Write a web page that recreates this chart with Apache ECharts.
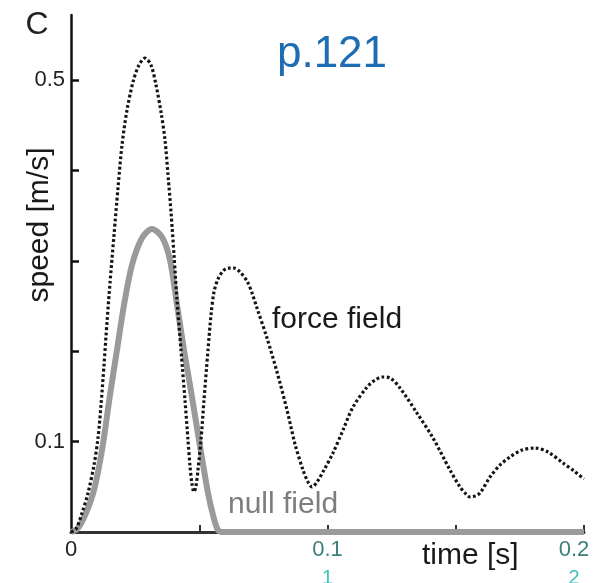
<!DOCTYPE html>
<html>
<head>
<meta charset="utf-8">
<script src="https://cdn.jsdelivr.net/npm/echarts@6/dist/echarts.min.js"></script>
<style>
html,body{margin:0;padding:0;background:#fff;}
#chart{width:606px;height:583px;}
</style>
</head>
<body>
<div id="chart"></div>
<script>
// force field trace: time [s] and speed [m/s]
var forceTime = [0,0.00195,0.00429,0.00663,0.00897,0.01053,0.0117,0.01287,0.01404,0.0152,0.01676,0.01832,0.01988,0.02183,0.02417,0.02651,0.02885,0.03119,0.03314,0.03509,0.03665,0.03782,0.03899,0.04016,0.04133,0.04288,0.04444,0.04561,0.04639,0.04717,0.04795,0.04873,0.04951,0.05068,0.05185,0.05341,0.05458,0.05575,0.05731,0.05926,0.06121,0.06355,0.06589,0.06862,0.07057,0.07251,0.07641,0.08031,0.08421,0.08733,0.09045,0.0924,0.09396,0.09591,0.09864,0.10214,0.10604,0.10994,0.1154,0.11852,0.12125,0.12437,0.12827,0.13489,0.14113,0.14776,0.15166,0.154,0.15556,0.1575,0.15945,0.16335,0.16725,0.17115,0.17583,0.1809,0.18596,0.19181,0.1961,0.2];
var forceSpeed = [0,0.0033,0.021,0.0431,0.0741,0.104,0.1405,0.1847,0.2323,0.2754,0.3285,0.3805,0.4281,0.4668,0.4978,0.5166,0.5243,0.5166,0.4945,0.4646,0.4336,0.3949,0.354,0.3064,0.2566,0.2013,0.146,0.1018,0.073,0.0531,0.0442,0.0509,0.0686,0.1018,0.146,0.2013,0.24,0.2655,0.2799,0.2887,0.292,0.292,0.2876,0.2777,0.2644,0.2478,0.2146,0.177,0.135,0.0973,0.0686,0.0553,0.0498,0.0553,0.0686,0.0874,0.1128,0.1383,0.1604,0.1681,0.1715,0.1704,0.1593,0.1316,0.104,0.0686,0.0498,0.042,0.0387,0.0398,0.0431,0.0608,0.0741,0.083,0.0907,0.0929,0.0885,0.0763,0.0675,0.0586];
// null field trace
var nullTime = [0,0.00273,0.00585,0.00897,0.01209,0.0152,0.01793,0.02066,0.02378,0.02768,0.03158,0.03548,0.0386,0.04133,0.04405,0.04639,0.0499,0.05341,0.05536,0.05731,0.05965,0.2];
var nullSpeed = [0,0.0044,0.021,0.0465,0.0907,0.1515,0.2013,0.2511,0.2954,0.3252,0.3352,0.3263,0.3009,0.2511,0.2013,0.1626,0.1018,0.0431,0.0188,0.0022,0,0];
var xTickValues = [0.05,0.1,0.15,0.2];
var xLabelValues = [0,0.1,0.2];
var xLabelTexts = ['0','0.1','0.2'];
var xLabelNotes = ['','1','2'];
var yTickValues = [0.1,0.2,0.3,0.4,0.5];
var yLabelValues = [0.1,0.5];
var yLabelTexts = ['0.1','0.5'];

function zip(a,b){return a.map(function(v,i){return [v,b[i]];});}

var chart = echarts.init(document.getElementById('chart'));
var FONT = '"Liberation Sans", Arial, Helvetica, sans-serif';
chart.setOption({
  backgroundColor:'#ffffff',
  animation:false,
  grid:{left:71,right:22,top:15,bottom:51,containLabel:false,outerBoundsMode:'none'},
  xAxis:{
    type:'value',min:0,max:0.2,interval:0.05,
    splitLine:{show:false},
    axisLine:{lineStyle:{color:'#333',width:3}},
    axisTick:{show:true,inside:true,length:7,customValues:xTickValues,lineStyle:{color:'#333',width:2}},
    axisLabel:{
      customValues:xLabelValues,margin:4,fontFamily:FONT,fontSize:22,color:'#222',lineHeight:28,
      formatter:function(v){
        for(var i=0;i<xLabelValues.length;i++){
          if(Math.abs(v-xLabelValues[i])<1e-6){
            if(xLabelNotes[i]) return '{' + (i===2?'u':'t') + '|'+xLabelTexts[i]+'}\n{' + (i===2?'g':'h') + '|'+xLabelNotes[i]+'}';
            return xLabelTexts[i];
          }
        }
        return '';
      },
      rich:{
        t:{fontFamily:FONT,fontSize:22,color:'#3b7f7c',lineHeight:28},
        u:{fontFamily:FONT,fontSize:22,color:'#3b7f7c',lineHeight:28,padding:[0,20,0,0]},
        h:{fontFamily:FONT,fontSize:20,color:'#45c2b9',lineHeight:28},
        g:{fontFamily:FONT,fontSize:20,color:'#45c2b9',lineHeight:28,padding:[0,20,0,0]}
      }
    }
  },
  yAxis:{
    type:'value',min:0,max:0.572,interval:0.1,
    splitLine:{show:false},
    axisLine:{lineStyle:{color:'#111',width:2.5}},
    axisTick:{show:true,inside:true,length:8,customValues:yTickValues,lineStyle:{color:'#111',width:2.5}},
    axisLabel:{
      customValues:yLabelValues,margin:6,fontFamily:FONT,fontSize:22,color:'#222',
      formatter:function(v){
        for(var i=0;i<yLabelValues.length;i++){ if(Math.abs(v-yLabelValues[i])<1e-6) return yLabelTexts[i]; }
        return '';
      }
    }
  },
  series:[
    {
      name:'null field',type:'line',data:zip(nullTime,nullSpeed),
      showSymbol:false,smooth:0.3,z:2,
      lineStyle:{color:'#9a9a9a',width:6}
    },
    {
      name:'force field',type:'line',data:zip(forceTime,forceSpeed),
      showSymbol:false,smooth:0.3,z:3,
      lineStyle:{color:'#141414',width:3.2,type:[2.8,2.4],cap:'butt'}
    }
  ],
  graphic:[
    {type:'text',x:37,y:25,style:{text:'C',font:'32px '+FONT,fill:'#222',align:'center',verticalAlign:'middle'}},
    {type:'text',x:332,y:55,style:{text:'p.121',font:'44px '+FONT,fill:'#1e6cb1',align:'center',verticalAlign:'middle'}},
    {type:'text',x:272,y:320,style:{text:'force field',font:'30px '+FONT,fill:'#1a1a1a',align:'left',verticalAlign:'middle'}},
    {type:'text',x:228,y:505,style:{text:'null field',font:'30px '+FONT,fill:'#7d7d7d',align:'left',verticalAlign:'middle'}},
    {type:'text',x:422,y:556,style:{text:'time [s]',font:'30px '+FONT,fill:'#1a1a1a',align:'left',verticalAlign:'middle'}},
    {type:'text',x:40,y:225,rotation:Math.PI/2,style:{text:'speed [m/s]',font:'30px '+FONT,fill:'#1a1a1a',align:'center',verticalAlign:'middle'}}
  ]
});
</script>
</body>
</html>
